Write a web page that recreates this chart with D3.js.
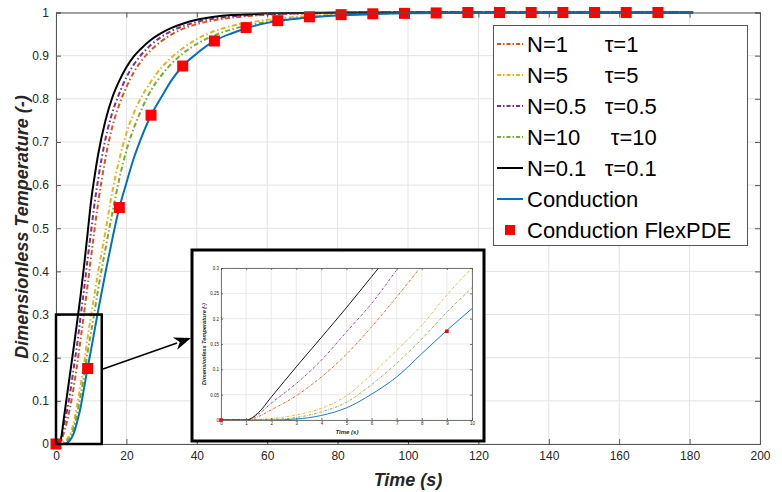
<!DOCTYPE html>
<html><head><meta charset="utf-8">
<script src="https://cdn.jsdelivr.net/npm/d3@7"></script>
<style>
html,body{margin:0;padding:0;background:#fff;}
svg{display:block;font-family:"Liberation Sans",Arial,Helvetica,sans-serif;}
</style></head>
<body>
<script>
// ---------------- DATA ----------------
const timeS = [0,1,1.5,2,3,4,5,6,7,8,9,10,11,12,14,16,18,20,22,24,27,30,33,36,40,45,50,55,60,70,80,90,100,120,140,160,181];
const n1Tau1   = [0,0,0.007,0.02,0.048,0.085,0.13,0.184,0.243,0.305,0.37,0.435,0.5,0.56,0.66,0.735,0.787,0.827,0.86,0.885,0.913,0.934,0.95,0.962,0.973,0.982,0.988,0.992,0.995,0.998,0.999,1,1,1,1,1,1];
const n5Tau5   = [0,0,0.001,0.003,0.01,0.023,0.048,0.09,0.138,0.187,0.247,0.3,0.35,0.4,0.49,0.585,0.66,0.72,0.765,0.8,0.84,0.873,0.897,0.917,0.938,0.957,0.969,0.977,0.983,0.991,0.995,0.998,0.999,1,1,1,1];
const n05Tau05 = [0,0,0.012,0.033,0.072,0.118,0.174,0.23,0.296,0.36,0.43,0.495,0.56,0.615,0.705,0.768,0.813,0.85,0.878,0.9,0.925,0.944,0.958,0.968,0.978,0.986,0.991,0.994,0.996,0.998,0.999,1,1,1,1,1,1];
const n10Tau10 = [0,0,0,0.001,0.005,0.016,0.035,0.07,0.112,0.16,0.213,0.261,0.31,0.36,0.45,0.535,0.615,0.68,0.73,0.77,0.82,0.855,0.883,0.905,0.927,0.947,0.961,0.971,0.978,0.988,0.994,0.997,0.999,1,1,1,1];
const n01Tau01 = [0,0,0.015,0.045,0.105,0.163,0.222,0.283,0.345,0.415,0.49,0.565,0.622,0.672,0.748,0.803,0.842,0.873,0.897,0.915,0.937,0.953,0.965,0.974,0.983,0.99,0.994,0.996,0.998,0.999,1,1,1,1,1,1,1];
const conduction = [0,0,0,0,0.002,0.009,0.024,0.051,0.085,0.131,0.177,0.22,0.265,0.31,0.395,0.475,0.548,0.605,0.66,0.705,0.762,0.805,0.845,0.876,0.905,0.934,0.952,0.966,0.976,0.987,0.993,0.996,0.998,0.999,1,1,1];
const flexTime = [0,9,18,27,36,45,54,63,72,81,90,99,108,117,126,135,144,153,162,171];
const flexPDE  = [0,0.175,0.548,0.762,0.876,0.934,0.965,0.981,0.99,0.995,0.997,0.998,0.999,1,1,1,1,1,1,1];
const legendLabels = ["N=1      \u03C4=1","N=5      \u03C4=5","N=0.5   \u03C4=0.5","N=10     \u03C4=10","N=0.1   \u03C4=0.1","Conduction","Conduction FlexPDE"];
const xTicks = [0,20,40,60,80,100,120,140,160,180,200];
const yTicks = [0,0.1,0.2,0.3,0.4,0.5,0.6,0.7,0.8,0.9,1];
const insetXTicks = [0,1,2,3,4,5,6,7,8,9,10];
const insetYTicks = [0,0.05,0.1,0.15,0.2,0.25,0.3];
const xLabel = "Time (s)";
const yLabel = "Dimensionless Temperature (-)";

// ---------------- STYLE ----------------
const series = [
  {name:legendLabels[0], values:n1Tau1,   color:"#D95319", dash:true},
  {name:legendLabels[1], values:n5Tau5,   color:"#EDB120", dash:true},
  {name:legendLabels[2], values:n05Tau05, color:"#7E2F8E", dash:true},
  {name:legendLabels[3], values:n10Tau10, color:"#77AC30", dash:true},
  {name:legendLabels[4], values:n01Tau01, color:"#000000", dash:false},
  {name:legendLabels[5], values:conduction, color:"#0072BD", dash:false}
];
const axisColor = "#555";
const gridColor = "#e3e3e3";
const textColor = "#262626";

const svg = d3.select("body").append("svg").attr("width",782).attr("height",492);

// ---------------- MAIN AXES ----------------
const x = d3.scaleLinear().domain([0,200]).range([56,760]);
const y = d3.scaleLinear().domain([0,1]).range([444,12.5]);

function drawAxes(g, xs, ys, xt, yt, opt){
  const [x0,x1] = xs.range(), [y0,y1] = ys.range();
  g.append("g").selectAll("line").data(xt).join("line")
    .attr("x1",d=>xs(d)).attr("x2",d=>xs(d)).attr("y1",y0).attr("y2",y1)
    .attr("stroke",gridColor).attr("stroke-width",opt.grid);
  g.append("g").selectAll("line").data(yt).join("line")
    .attr("y1",d=>ys(d)).attr("y2",d=>ys(d)).attr("x1",x0).attr("x2",x1)
    .attr("stroke",gridColor).attr("stroke-width",opt.grid);
}
function drawFrame(g, xs, ys, xt, yt, opt){
  const [x0,x1] = xs.range(), [y0,y1] = ys.range();
  const bottom = g.append("g").attr("transform",`translate(0,${y0})`)
    .call(d3.axisBottom(xs).tickValues(xt).tickSize(-opt.tick).tickPadding(opt.pad).tickFormat(d3.format("")));
  const left = g.append("g").attr("transform",`translate(${x0},0)`)
    .call(d3.axisLeft(ys).tickValues(yt).tickSize(-opt.tick).tickPadding(opt.pad).tickFormat(d3.format("")));
  const top = g.append("g").attr("transform",`translate(0,${y1})`)
    .call(d3.axisTop(xs).tickValues(xt).tickSize(-opt.tick).tickFormat(""));
  const right = g.append("g").attr("transform",`translate(${x1},0)`)
    .call(d3.axisRight(ys).tickValues(yt).tickSize(-opt.tick).tickFormat(""));
  [bottom,left,top,right].forEach(a=>{
    a.select(".domain").attr("stroke",axisColor).attr("stroke-width",opt.axisW);
    a.selectAll(".tick line").attr("stroke",axisColor).attr("stroke-width",opt.axisW);
    a.selectAll("text").attr("fill",textColor).attr("font-size",opt.font)
      .attr("font-family",'"Liberation Sans",Arial,sans-serif');
  });
}

const mainG = svg.append("g");
drawAxes(mainG, x, y, xTicks, yTicks, {grid:1});

const line = (xs,ys)=>d3.line().x((d,i)=>xs(timeS[i])).y(d=>ys(d)).curve(d3.curveMonotoneX);
const dashMain = "5,2.5,1.5,2.5";

series.forEach(s=>{
  mainG.append("path").datum(s.values).attr("d",line(x,y))
    .attr("fill","none").attr("stroke",s.color).attr("stroke-width",2)
    .attr("stroke-dasharray",s.dash?dashMain:null);
});
mainG.append("g").selectAll("rect").data(flexPDE).join("rect")
  .attr("x",(d,i)=>x(flexTime[i])-5.5).attr("y",d=>y(d)-5.5)
  .attr("width",11).attr("height",11).attr("fill","#ff0000");

drawFrame(mainG, x, y, xTicks, yTicks, {tick:5, pad:7, axisW:1, font:12});

// axis labels
svg.append("text").attr("x",408).attr("y",486).attr("text-anchor","middle")
  .attr("font-size",18).attr("font-weight","bold").attr("font-style","italic").attr("fill",textColor).text(xLabel);
svg.append("text").attr("transform","translate(28,227) rotate(-90)").attr("text-anchor","middle")
  .attr("font-size",18).attr("font-weight","bold").attr("font-style","italic").attr("fill",textColor).text(yLabel);

// zoom rectangle
svg.append("rect").attr("x",x(0)).attr("y",y(0.3)).attr("width",x(13)-x(0)).attr("height",y(0)-y(0.3))
  .attr("fill","none").attr("stroke","#000").attr("stroke-width",2.5);

// arrow
const ax0=103, ay0=369, ax1=191, ay1=338;
svg.append("line").attr("x1",ax0).attr("y1",ay0).attr("x2",ax1-14).attr("y2",ay1+5)
  .attr("stroke","#000").attr("stroke-width",1.5);
(function(){
  const ang = Math.atan2(ay1-ay0, ax1-ax0), L=17, Wd=6.5;
  const bx = ax1-L*Math.cos(ang), by = ay1-L*Math.sin(ang);
  const nx = -Math.sin(ang), ny = Math.cos(ang);
  const ix = ax1-L*0.7*Math.cos(ang), iy = ay1-L*0.7*Math.sin(ang);
  svg.append("path").attr("d",`M${ax1},${ay1}L${bx+nx*Wd},${by+ny*Wd}L${ix},${iy}L${bx-nx*Wd},${by-ny*Wd}Z`).attr("fill","#000");
})();

// ---------------- INSET ----------------
svg.append("rect").attr("x",192).attr("y",250).attr("width",292).attr("height",191)
  .attr("fill","#fff").attr("stroke","#000").attr("stroke-width",3);
const ix = d3.scaleLinear().domain([0,10]).range([221,472]);
const iy = d3.scaleLinear().domain([0,0.3]).range([420,268]);
const inG = svg.append("g");
drawAxes(inG, ix, iy, insetXTicks, insetYTicks, {grid:0.8});
svg.append("clipPath").attr("id","insetClip").append("rect").attr("x",221).attr("y",268).attr("width",251).attr("height",152);
const inPlot = inG.append("g").attr("clip-path","url(#insetClip)");
series.forEach(s=>{
  inPlot.append("path").datum(s.values).attr("d",line(ix,iy))
    .attr("fill","none").attr("stroke",s.color).attr("stroke-width",0.9)
    .attr("stroke-dasharray",s.dash?"2.5,1.2,0.6,1.2":null);
});
inG.append("g").selectAll("rect").data(flexPDE.filter((d,i)=>flexTime[i]<=10)).join("rect")
  .attr("x",(d,i)=>ix(flexTime[i])-1.8).attr("y",d=>iy(d)-1.8)
  .attr("width",3.6).attr("height",3.6).attr("fill","#ff0000");
drawFrame(inG, ix, iy, insetXTicks, insetYTicks, {tick:2, pad:2, axisW:0.8, font:4.5});
inG.append("text").attr("x",347).attr("y",434).attr("text-anchor","middle")
  .attr("font-size",6).attr("font-weight","bold").attr("font-style","italic").attr("fill",textColor).text(xLabel);
inG.append("text").attr("transform","translate(206,344) rotate(-90)").attr("text-anchor","middle")
  .attr("font-size",5.6).attr("font-weight","bold").attr("font-style","italic").attr("fill",textColor).text(yLabel);

// ---------------- LEGEND ----------------
const lg = svg.append("g");
lg.append("rect").attr("x",493.5).attr("y",25.5).attr("width",254).attr("height",220)
  .attr("fill","#fff").attr("stroke","#555").attr("stroke-width",1);
const rowY = i => 44 + i*31;
series.forEach((s,i)=>{
  lg.append("line").attr("x1",497).attr("x2",523).attr("y1",rowY(i)).attr("y2",rowY(i))
    .attr("stroke",s.color).attr("stroke-width",2).attr("stroke-dasharray",s.dash?"4,2,1.5,2":null);
});
lg.append("rect").attr("x",505).attr("y",rowY(6)-5).attr("width",10).attr("height",10).attr("fill","#ff0000");
lg.selectAll("text.lab").data(legendLabels).join("text").attr("class","lab")
  .attr("x",527).attr("y",(d,i)=>rowY(i)+8).attr("font-size",22).attr("fill","#000")
  .style("white-space","pre").attr("xml:space","preserve").text(d=>d);
</script>
</body></html>
